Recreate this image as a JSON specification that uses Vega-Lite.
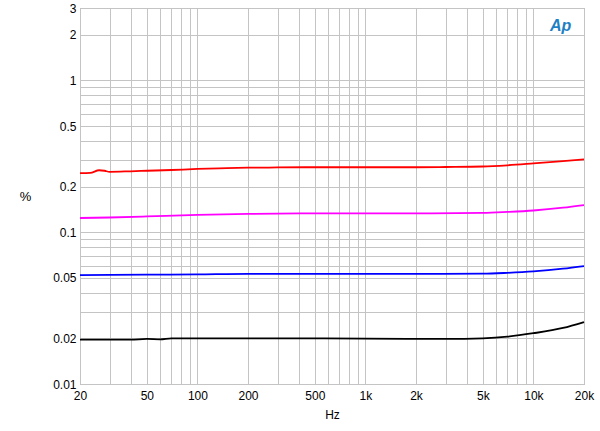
{
  "$schema": "https://vega.github.io/schema/vega-lite/v6.json",
  "autosize": "none",
  "width": 504,
  "height": 376,
  "padding": {"left": 80, "top": 8, "right": 16, "bottom": 47},
  "background": "white",
  "config": {
    "view": {"stroke": "#9a9a9a", "strokeWidth": 1},
    "font": "Liberation Sans",
    "axis": {"labelFont": "Liberation Sans", "titleFont": "Liberation Sans", "labelFontSize": 12, "titleFontSize": 12, "labelColor": "#000", "titleColor": "#000", "titleFontWeight": "normal", "gridColor": "#c4c4c4", "gridWidth": 1, "domain": false, "ticks": false}
  },
  "data": {"values": [
    {"s": "red", "f": 20, "v": 0.245}, {"s": "red", "f": 23, "v": 0.246}, {"s": "red", "f": 26, "v": 0.256}, {"s": "red", "f": 28, "v": 0.254}, {"s": "red", "f": 30, "v": 0.250}, {"s": "red", "f": 40, "v": 0.252}, {"s": "red", "f": 50, "v": 0.254}, {"s": "red", "f": 70, "v": 0.257}, {"s": "red", "f": 100, "v": 0.261}, {"s": "red", "f": 150, "v": 0.264}, {"s": "red", "f": 200, "v": 0.266}, {"s": "red", "f": 300, "v": 0.267}, {"s": "red", "f": 500, "v": 0.268}, {"s": "red", "f": 1000, "v": 0.268}, {"s": "red", "f": 2000, "v": 0.268}, {"s": "red", "f": 3000, "v": 0.269}, {"s": "red", "f": 5000, "v": 0.271}, {"s": "red", "f": 7000, "v": 0.276}, {"s": "red", "f": 10000, "v": 0.284}, {"s": "red", "f": 15000, "v": 0.294}, {"s": "red", "f": 20000, "v": 0.302},
    {"s": "magenta", "f": 20, "v": 0.124}, {"s": "magenta", "f": 30, "v": 0.125}, {"s": "magenta", "f": 50, "v": 0.127}, {"s": "magenta", "f": 100, "v": 0.130}, {"s": "magenta", "f": 200, "v": 0.132}, {"s": "magenta", "f": 500, "v": 0.133}, {"s": "magenta", "f": 1000, "v": 0.133}, {"s": "magenta", "f": 2000, "v": 0.133}, {"s": "magenta", "f": 5000, "v": 0.134}, {"s": "magenta", "f": 7000, "v": 0.136}, {"s": "magenta", "f": 10000, "v": 0.139}, {"s": "magenta", "f": 15000, "v": 0.145}, {"s": "magenta", "f": 20000, "v": 0.151},
    {"s": "blue", "f": 20, "v": 0.0522}, {"s": "blue", "f": 50, "v": 0.0525}, {"s": "blue", "f": 100, "v": 0.0528}, {"s": "blue", "f": 200, "v": 0.0532}, {"s": "blue", "f": 500, "v": 0.0531}, {"s": "blue", "f": 1000, "v": 0.0531}, {"s": "blue", "f": 2000, "v": 0.0531}, {"s": "blue", "f": 5000, "v": 0.0533}, {"s": "blue", "f": 7000, "v": 0.0540}, {"s": "blue", "f": 10000, "v": 0.0552}, {"s": "blue", "f": 15000, "v": 0.0575}, {"s": "blue", "f": 20000, "v": 0.0598},
    {"s": "black", "f": 20, "v": 0.0196}, {"s": "black", "f": 40, "v": 0.0196}, {"s": "black", "f": 50, "v": 0.0198}, {"s": "black", "f": 60, "v": 0.0197}, {"s": "black", "f": 70, "v": 0.0200}, {"s": "black", "f": 100, "v": 0.0200}, {"s": "black", "f": 200, "v": 0.0200}, {"s": "black", "f": 500, "v": 0.0200}, {"s": "black", "f": 1000, "v": 0.0199}, {"s": "black", "f": 2000, "v": 0.0198}, {"s": "black", "f": 3000, "v": 0.0198}, {"s": "black", "f": 5000, "v": 0.0200}, {"s": "black", "f": 7000, "v": 0.0205}, {"s": "black", "f": 10000, "v": 0.0216}, {"s": "black", "f": 15000, "v": 0.0234}, {"s": "black", "f": 20000, "v": 0.0256}
  ]},
  "layer": [
    {
      "mark": {"type": "line", "strokeWidth": 1.8, "interpolate": "monotone"},
      "encoding": {
        "x": {"field": "f", "type": "quantitative", "scale": {"type": "log", "domain": [20, 20000], "nice": false}, "title": "Hz",
          "axis": {"values": [20,30,40,50,60,70,80,90,100,200,300,400,500,600,700,800,900,1000,2000,3000,4000,5000,6000,7000,8000,9000,10000,20000],
            "labelExpr": "indexof([20,50,100,200,500,1000,2000,5000,10000,20000], datum.value) >= 0 ? (datum.value >= 1000 ? (datum.value/1000) + 'k' : '' + datum.value) : ''",
            "labelPadding": 6, "titlePadding": 8, "labelFlush": false, "labelOverlap": false}},
        "y": {"field": "v", "type": "quantitative", "scale": {"type": "log", "domain": [0.01, 3], "nice": false}, "title": "%",
          "axis": {"values": [0.01,0.02,0.03,0.04,0.05,0.06,0.07,0.08,0.09,0.1,0.2,0.3,0.4,0.5,0.6,0.7,0.8,0.9,1,2,3],
            "labelExpr": "indexof([0.01,0.02,0.05,0.1,0.2,0.5,1,2,3], datum.value) >= 0 ? '' + datum.value : ''",
            "labelPadding": 4, "titleAngle": 0, "titleX": -55, "titleY": 188, "titleAlign": "center", "titleBaseline": "middle", "titleFontSize": 13, "labelFlush": false, "labelOverlap": false}},
        "color": {"field": "s", "type": "nominal", "scale": {"domain": ["red", "magenta", "blue", "black"], "range": ["#ff0000", "#ff00ff", "#0000ff", "#000000"]}, "legend": null},
        "detail": {"field": "s"}
      }
    },
    {
      "data": {"values": [{"f": 14500, "v": 2.3, "t": "Ap"}]},
      "mark": {"type": "text", "font": "Liberation Sans", "fontStyle": "italic", "fontWeight": "bold", "fontSize": 16, "color": "#1f7fc4"},
      "encoding": {
        "x": {"field": "f", "type": "quantitative"},
        "y": {"field": "v", "type": "quantitative"},
        "text": {"field": "t"}
      }
    }
  ]
}
